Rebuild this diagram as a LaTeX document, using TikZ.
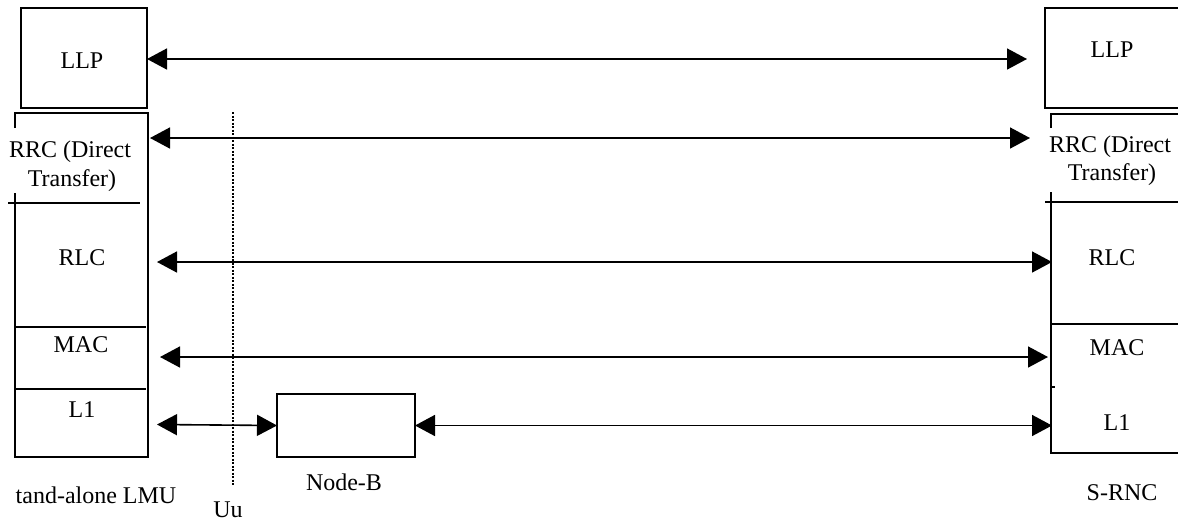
\documentclass[tikz,border=0pt]{standalone}
\usepackage{fontspec}
\setmainfont{Liberation Serif}
\usetikzlibrary{arrows.meta}
\begin{document}
\begin{tikzpicture}[x=0.5pt,y=-0.5pt,
  box/.style={draw,line width=0.6pt,minimum width=#1,inner sep=0pt,outer sep=0pt},
  frame/.style={line width=0.6pt},
  arr/.style={line width=0.8pt,{Triangle[length=10pt,width=10.5pt]}-{Triangle[length=10pt,width=10.5pt]}},
  lbl/.style={anchor=base,inner sep=0pt,font=\fontsize{12}{15}\selectfont,align=center},
  uu/.style={line width=1pt,dash pattern=on 1pt off 0.75pt}]
\useasboundingbox (0,0) rectangle (1178,521);
% left LLP box
\node[box=63pt,minimum height=50pt,anchor=north west] (llpL) at (21,8) {};
% right LLP box (open on the right, beyond the page)
\draw[frame] (1180,8) -- (1045,8) -- (1045,108) -- (1180,108);
% left stack
\draw[frame] (15,128) -- (15,113) -- (148,113) -- (148,457) -- (15,457) -- (15,193);
\draw[frame] (8,203) -- (140,203);
\draw[frame] (15,327) -- (146,327);
\draw[frame] (15,389) -- (146,389);
% right stack
\draw[frame] (1051,128) -- (1051,114) -- (1180,114);
\draw[frame] (1051,192) -- (1051,453) -- (1180,453);
\draw[frame] (1045,202) -- (1180,202);
\draw[frame] (1051,324) -- (1180,324);
\draw[frame] (1051,387) -- (1055,387);
% Node-B
\node[box=69pt,minimum height=31.5pt,anchor=north west] (nodeb) at (277,394) {};
% Uu dotted line
\coordinate (uuT) at (233,112);
\coordinate (uuB) at (233,485);
\draw[uu] (uuT) -- (uuB);
% arrow end points
\coordinate (llpA) at (147,59);
\coordinate (llpB) at (1027,59);
\coordinate (rrcA) at (150,138);
\coordinate (rrcB) at (1030,138);
\coordinate (rlcA) at (157,262);
\coordinate (rlcB) at (1052,262);
\coordinate (macA) at (160,357);
\coordinate (macB) at (1048,357);
\coordinate (l1A) at (157,424.5);
\coordinate (l1B) at (1052,425.5);
\draw[arr] (llpA) -- (llpB);
\draw[arr] (rrcA) -- (rrcB);
\draw[arr] (rlcA) -- (rlcB);
\draw[arr] (macA) -- (macB);
\draw[arr] (l1A) -- (nodeb.west);
\draw[arr] (nodeb.east) -- (l1B);
% labels left
\node[lbl] (tLLPl) at (82,68) {LLP};
\node[lbl] (tRRCl1) at (70,157) {RRC (Direct};
\node[lbl] (tRRCl2) at (72,186) {Transfer)};
\node[lbl] (tRLCl) at (82,265) {RLC};
\node[lbl] (tMACl) at (81,352) {MAC};
\node[lbl] (tL1l) at (82,417) {L1};
\node[lbl] (tLMU) at (96,503) {tand-alone LMU};
\node[lbl] (tUu) at (228,517) {Uu};
\node[lbl] (tNodeB) at (344,490) {Node-B};
% labels right
\node[lbl] (tLLPr) at (1112,57) {LLP};
\node[lbl] (tRRCr1) at (1110,152) {RRC (Direct};
\node[lbl] (tRRCr2) at (1112,180) {Transfer)};
\node[lbl] (tRLCr) at (1112,265) {RLC};
\node[lbl] (tMACr) at (1117,355) {MAC};
\node[lbl] (tL1r) at (1117,430) {L1};
\node[lbl] (tSRNC) at (1122,500) {S-RNC};
\end{tikzpicture}
\end{document}
